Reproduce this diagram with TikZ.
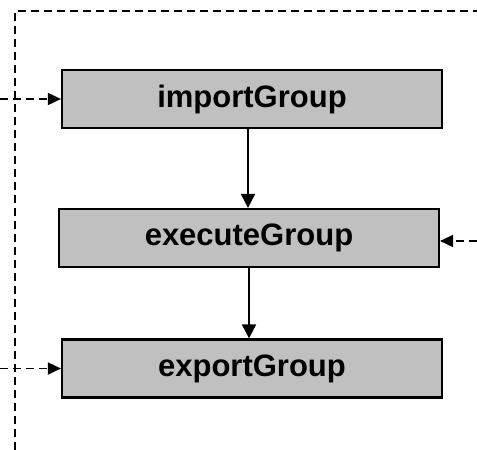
\documentclass[tikz,border=0pt]{standalone}
\usepackage{fontspec}
\setmainfont{Liberation Sans}
\usetikzlibrary{positioning,arrows.meta}
\definecolor{Box}{RGB}{192,192,192}

\begin{document}
\begin{tikzpicture}[x=1pt,y=-1pt,
  groupbox/.style={draw=black,line width=2.2pt,fill=Box,minimum width=380pt,minimum height=58pt,inner sep=0pt,font=\fontsize{31}{33}\selectfont\bfseries},
  flow/.style={-{Triangle[length=14pt,width=14pt]},line width=1.8pt},
  ext/.style={-{Triangle[length=13pt,width=12pt]},line width=1.8pt,dash pattern=on 8pt off 5pt},
  frame/.style={line width=1.8pt,dash pattern=on 8pt off 5pt}]
\useasboundingbox (0,0) rectangle (477,450);
\node[groupbox] (import) at (252,99) {importGroup};
\node[groupbox] (execute) at (249,238) {executeGroup};
\node[groupbox] (export) at (252,368.5) {exportGroup};
% outer frame
\coordinate (fbottom) at (15,450);
\coordinate (fcorner) at (15,11);
\coordinate (fright) at (477,11);
\draw[frame] (fbottom)--(fcorner)--(fright);
% inputs from outside
\coordinate (inImport) at (0,99);
\coordinate (inExecute) at (477,241);
\coordinate (inExport) at (0,368.5);
\draw[ext] (inImport)--(import.west);
\draw[ext] (inExecute)--(execute.east |- inExecute);
\draw[ext] (inExport)--(export.west);
\draw[flow] (import.south -| 248,0)--(execute.north -| 248,0);
\draw[flow] (execute.south -| 249,0)--(export.north -| 249,0);
\end{tikzpicture}
\end{document}
